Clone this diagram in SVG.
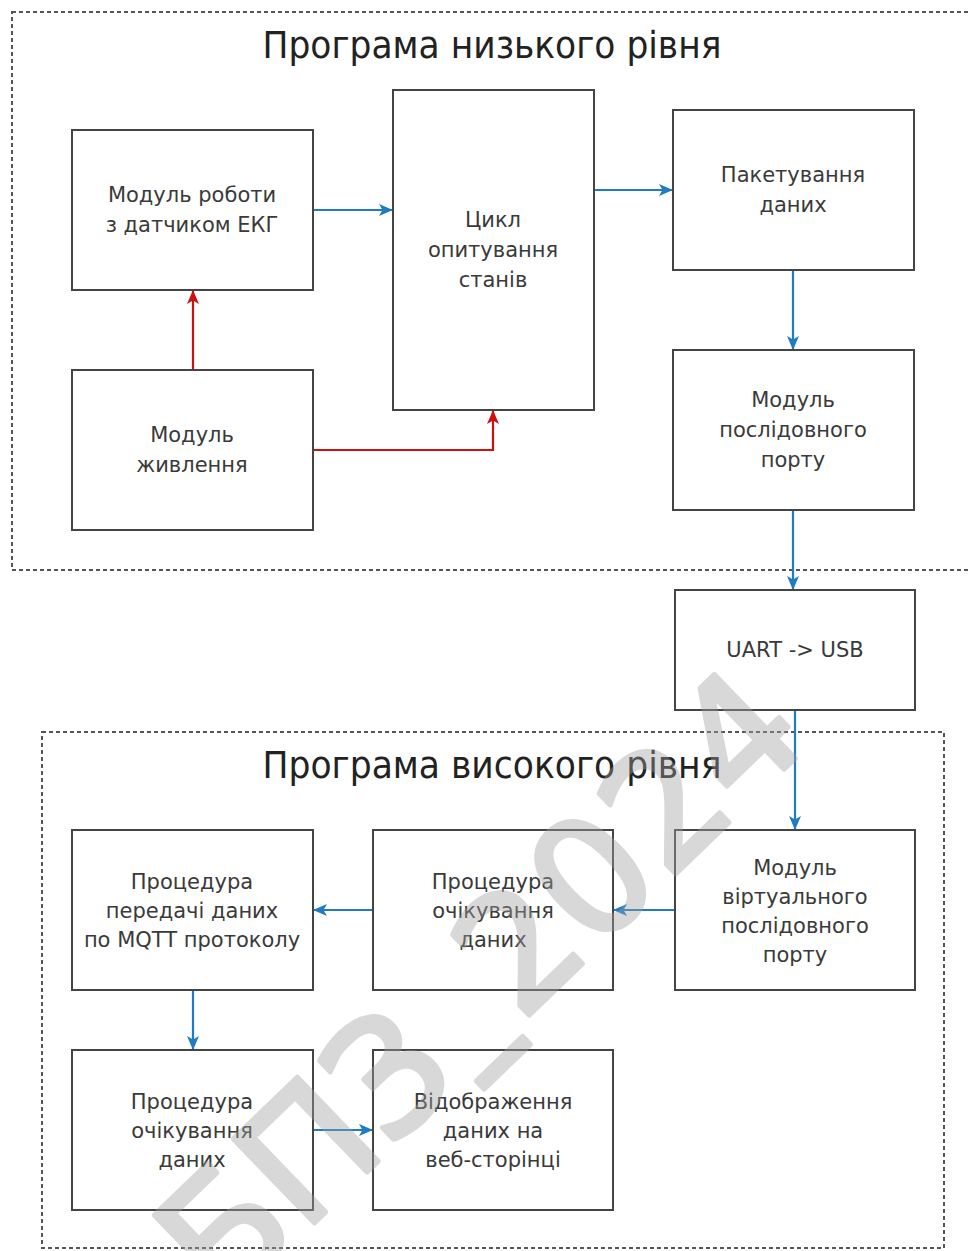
<svg xmlns="http://www.w3.org/2000/svg" width="969" height="1251" viewBox="0 0 969 1251">
<style>
.box{fill:#ffffff;stroke:#444444;stroke-width:2}
.lbl{font-family:"DejaVu Sans","Liberation Sans",sans-serif;font-size:21px;fill:#3a3a3a;text-anchor:middle}
.ttl{font-family:"DejaVu Sans","Liberation Sans",sans-serif;font-size:37px;fill:#222222;text-anchor:middle}
.cont{fill:none;stroke:#555555;stroke-width:2;stroke-dasharray:4 3}
.blue{fill:none;stroke:#1f7cc1;stroke-width:2.2}
.red{fill:none;stroke:#cc1111;stroke-width:2.2}
.wm{font-family:"DejaVu Sans","Liberation Sans",sans-serif;font-size:160px;fill:#a0a0a0;stroke:#a0a0a0;stroke-width:5;stroke-linejoin:round;opacity:0.4}
</style>
<defs>
<marker id="ab" viewBox="0 0 14 12" refX="14" refY="6" markerWidth="14" markerHeight="12" markerUnits="userSpaceOnUse" orient="auto">
<path d="M0,0 L14,6 L0,12 L3.5,6 Z" fill="#1f7cc1"/>
</marker>
<marker id="ar" viewBox="0 0 14 12" refX="14" refY="6" markerWidth="14" markerHeight="12" markerUnits="userSpaceOnUse" orient="auto">
<path d="M0,0 L14,6 L0,12 L3.5,6 Z" fill="#cc1111"/>
</marker>
</defs>
<rect width="969" height="1251" fill="#ffffff"/>

<g id="container-low">
<rect class="cont" x="12" y="12" width="962" height="558"/>
<text class="ttl" x="492" y="58" textLength="459" lengthAdjust="spacingAndGlyphs">Програма низького рівня</text>
</g>
<g id="container-high">
<rect class="cont" x="42" y="732" width="902" height="516"/>
<text class="ttl" x="492" y="778" textLength="459" lengthAdjust="spacingAndGlyphs">Програма високого рівня</text>
</g>

<g id="connectors">
<line class="blue" x1="313" y1="210" x2="393" y2="210" marker-end="url(#ab)"/>
<line class="blue" x1="594" y1="190" x2="673" y2="190" marker-end="url(#ab)"/>
<line class="blue" x1="793" y1="270" x2="793" y2="350" marker-end="url(#ab)"/>
<line class="blue" x1="793" y1="510" x2="793" y2="590" marker-end="url(#ab)"/>
<line class="blue" x1="795" y1="710" x2="795" y2="830" marker-end="url(#ab)"/>
<line class="blue" x1="675" y1="910" x2="613" y2="910" marker-end="url(#ab)"/>
<line class="blue" x1="373" y1="910" x2="313" y2="910" marker-end="url(#ab)"/>
<line class="blue" x1="193" y1="990" x2="193" y2="1050" marker-end="url(#ab)"/>
<line class="blue" x1="313" y1="1130" x2="373" y2="1130" marker-end="url(#ab)"/>
<line class="red" x1="193" y1="370" x2="193" y2="290" marker-end="url(#ar)"/>
<polyline class="red" points="313,450 493,450 493,410" marker-end="url(#ar)"/>
</g>

<g id="ecg-module">
<rect class="box" x="72" y="130" width="241" height="160"/>
<text class="lbl" x="192" y="202">Модуль роботи</text>
<text class="lbl" x="192" y="232">з датчиком ЕКГ</text>
</g>
<g id="power-module">
<rect class="box" x="72" y="370" width="241" height="160"/>
<text class="lbl" x="192" y="442">Модуль</text>
<text class="lbl" x="192" y="472">живлення</text>
</g>
<g id="poll-loop">
<rect class="box" x="393" y="90" width="201" height="320"/>
<text class="lbl" x="493" y="227">Цикл</text>
<text class="lbl" x="493" y="257">опитування</text>
<text class="lbl" x="493" y="287">станів</text>
</g>
<g id="packet">
<rect class="box" x="673" y="110" width="241" height="160"/>
<text class="lbl" x="793" y="182">Пакетування</text>
<text class="lbl" x="793" y="212">даних</text>
</g>
<g id="serial-port">
<rect class="box" x="673" y="350" width="241" height="160"/>
<text class="lbl" x="793" y="407">Модуль</text>
<text class="lbl" x="793" y="437">послідовного</text>
<text class="lbl" x="793" y="467">порту</text>
</g>
<g id="uart-usb">
<rect class="box" x="675" y="590" width="240" height="120"/>
<text class="lbl" x="795" y="657">UART -&gt; USB</text>
</g>
<g id="virtual-port">
<rect class="box" x="675" y="830" width="240" height="160"/>
<text class="lbl" x="795" y="875">Модуль</text>
<text class="lbl" x="795" y="904">віртуального</text>
<text class="lbl" x="795" y="933">послідовного</text>
<text class="lbl" x="795" y="962">порту</text>
</g>
<g id="wait-data-1">
<rect class="box" x="373" y="830" width="240" height="160"/>
<text class="lbl" x="493" y="889">Процедура</text>
<text class="lbl" x="493" y="918">очікування</text>
<text class="lbl" x="493" y="947">даних</text>
</g>
<g id="mqtt">
<rect class="box" x="72" y="830" width="241" height="160"/>
<text class="lbl" x="192" y="889">Процедура</text>
<text class="lbl" x="192" y="918">передачі даних</text>
<text class="lbl" x="192" y="947">по MQTT протоколу</text>
</g>
<g id="wait-data-2">
<rect class="box" x="72" y="1050" width="241" height="160"/>
<text class="lbl" x="192" y="1109">Процедура</text>
<text class="lbl" x="192" y="1138">очікування</text>
<text class="lbl" x="192" y="1167">даних</text>
</g>
<g id="web-display">
<rect class="box" x="373" y="1050" width="240" height="160"/>
<text class="lbl" x="493" y="1109">Відображення</text>
<text class="lbl" x="493" y="1138">даних на</text>
<text class="lbl" x="493" y="1167">веб-сторінці</text>
</g>

<text class="wm" x="224" y="1310" transform="rotate(-44 224 1310)">БПЗ<tspan dy="60">–</tspan><tspan dy="-60">2024</tspan></text>
</svg>
